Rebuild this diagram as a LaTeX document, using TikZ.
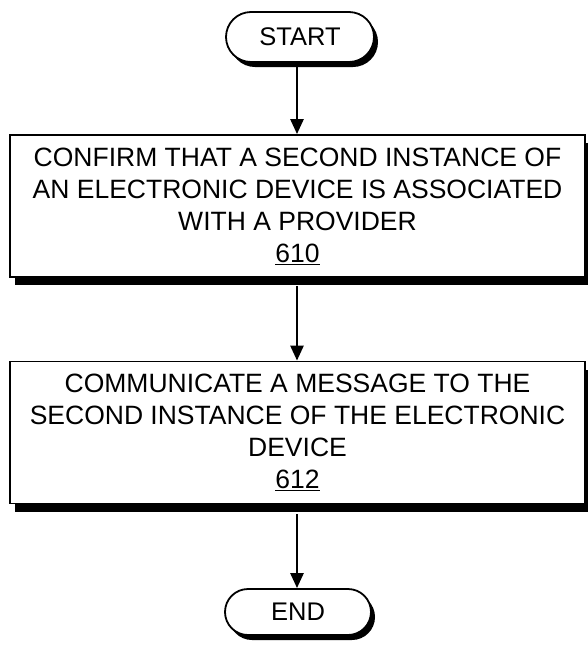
\documentclass[tikz,border=0pt]{standalone}
\usepackage{fontspec}
\setmainfont{Liberation Sans}
\usetikzlibrary{arrows.meta,shadows,shapes.misc}
\tikzset{
  term/.style={draw=black, line width=1.8pt, fill=white, rounded rectangle,
    minimum width=#1, inner sep=0pt, font=\fontsize{25.5}{30}\selectfont,
    drop shadow={shadow xshift=4pt, shadow yshift=-5pt, fill=black, opacity=1}},
  stepbox/.style={draw=black, line width=1.8pt, fill=white, rectangle,
    minimum width=575pt, minimum height=142pt, inner sep=0pt,
    align=center, font=\fontsize{26.5}{32}\selectfont,
    drop shadow={shadow xshift=5pt, shadow yshift=-8pt, fill=black, opacity=1}},
  flow/.style={line width=2.6pt, -{Triangle[width=13pt,length=15pt]}}
}
\begin{document}
\begin{tikzpicture}[x=1pt,y=-1pt]
\useasboundingbox (0,0) rectangle (588,646);
\node[term=148pt, minimum height=50pt] (start) at (300,37) {START};
\node[stepbox] (s610) at (297.5,206) {CONFIRM THAT A SECOND INSTANCE OF\\AN ELECTRONIC DEVICE IS ASSOCIATED\\WITH A PROVIDER\\\underline{610}};
\node[stepbox] (s612) at (297.5,432.5) {COMMUNICATE A MESSAGE TO THE\\SECOND INSTANCE OF THE ELECTRONIC\\DEVICE\\\underline{612}};
\node[term=146pt, minimum height=46pt] (end) at (298,612) {END};
\draw[flow] (start.south -| 297,0) -- (s610.north -| 297,0);
\draw[flow] (s610.south -| 297,0) ++(0,8) -- (s612.north -| 297,0);
\draw[flow] (s612.south -| 297,0) ++(0,10) -- (end.north -| 297,0);
\end{tikzpicture}
\end{document}
